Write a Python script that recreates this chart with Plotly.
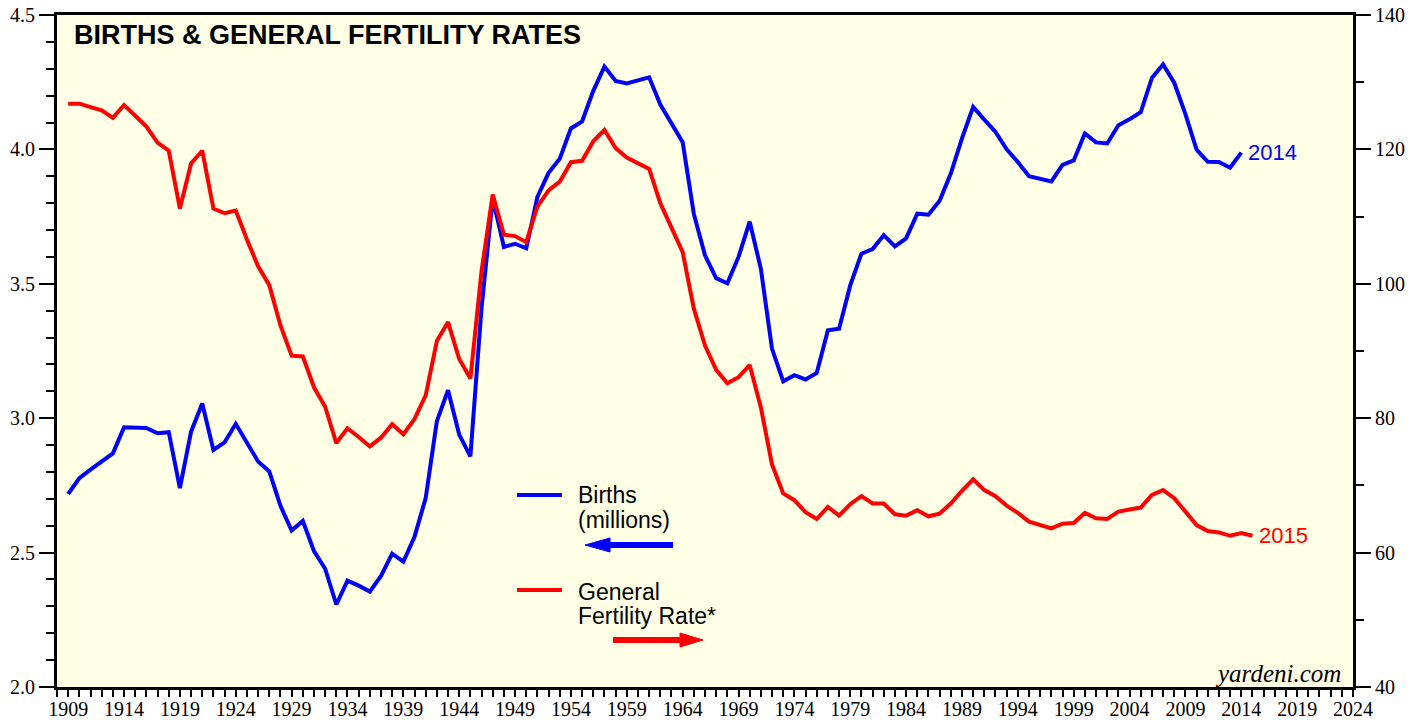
import plotly.graph_objects as go

# ---------------- data ----------------
births_years = list(range(1909, 2015))
births = [2.718, 2.777, 2.809, 2.840, 2.869, 2.966, 2.965, 2.964, 2.944, 2.948,
          2.740, 2.950, 3.055, 2.882, 2.910, 2.979, 2.909, 2.839, 2.802, 2.674,
          2.582, 2.618, 2.506, 2.440, 2.307, 2.396, 2.377, 2.355, 2.413, 2.496,
          2.466, 2.559, 2.703, 2.989, 3.104, 2.939, 2.858, 3.411, 3.817, 3.637,
          3.649, 3.632, 3.823, 3.913, 3.965, 4.078, 4.104, 4.218, 4.308, 4.255,
          4.245, 4.258, 4.268, 4.167, 4.098, 4.027, 3.760, 3.606, 3.521, 3.502,
          3.600, 3.731, 3.556, 3.258, 3.137, 3.160, 3.144, 3.168, 3.327, 3.333,
          3.494, 3.612, 3.629, 3.681, 3.639, 3.669, 3.761, 3.757, 3.809, 3.910,
          4.041, 4.158, 4.111, 4.065, 4.000, 3.953, 3.900, 3.891, 3.881, 3.942,
          3.959, 4.059, 4.026, 4.022, 4.090, 4.112, 4.138, 4.266, 4.316, 4.248,
          4.131, 3.999, 3.954, 3.953, 3.932, 3.988]

gfr_years = list(range(1909, 2016))
gfr = [126.8, 126.8, 126.3, 125.8, 124.7, 126.6, 125.0, 123.4, 121.0, 119.8,
       111.2, 117.9, 119.8, 111.2, 110.5, 110.9, 106.6, 102.6, 99.8, 93.8,
       89.3, 89.2, 84.6, 81.7, 76.3, 78.5, 77.2, 75.8, 77.1, 79.1,
       77.6, 79.9, 83.4, 91.5, 94.3, 88.8, 85.9, 101.9, 113.3, 107.3,
       107.1, 106.2, 111.5, 113.9, 115.2, 118.1, 118.3, 121.2, 122.9, 120.2,
       118.8, 118.0, 117.1, 112.0, 108.3, 104.7, 96.3, 90.8, 87.2, 85.2,
       86.1, 87.9, 81.6, 73.1, 68.8, 67.8, 66.0, 65.0, 66.8, 65.5,
       67.2, 68.4, 67.3, 67.3, 65.7, 65.5, 66.3, 65.4, 65.8, 67.3,
       69.2, 70.9, 69.3, 68.4, 67.0, 65.9, 64.6, 64.1, 63.6, 64.3,
       64.4, 65.9, 65.1, 65.0, 66.1, 66.4, 66.7, 68.6, 69.3, 68.1,
       66.2, 64.1, 63.2, 63.0, 62.5, 62.9, 62.5]

x_tick_years = list(range(1908, 2026))
x_label_years = list(range(1909, 2025, 5))
left_ticks = [2.0, 2.5, 3.0, 3.5, 4.0, 4.5]
left_tick_labels = ["2.0", "2.5", "3.0", "3.5", "4.0", "4.5"]
right_ticks = [40, 60, 80, 100, 120, 140]
right_tick_labels = ["40", "60", "80", "100", "120", "140"]

# ---------------- layout constants ----------------
W, H = 1426, 721
ML, MR, MT, MB = 57, 73, 15, 34
XR = [1908, 2024]
Y1R = [2.0, 4.5]
Y2R = [40, 140]
PW = W - ML - MR
PH = H - MT - MB

def px_to_x(px):
    return XR[0] + (px - ML) / PW * (XR[1] - XR[0])

def py_to_y1(py):
    return Y1R[0] + (MT + PH - py) / PH * (Y1R[1] - Y1R[0])

def dpy(p):
    return p / PH * (Y1R[1] - Y1R[0])

BLUE = "#0000FF"
RED = "#FF0000"
SANS = "Liberation Sans, Arial, Helvetica, sans-serif"
SERIF = "Liberation Serif, Times New Roman, serif"

fig = go.Figure()
fig.add_trace(go.Scatter(x=births_years, y=births, mode="lines",
                         line=dict(color=BLUE, width=4), yaxis="y",
                         showlegend=False, hoverinfo="x+y"))
fig.add_trace(go.Scatter(x=gfr_years, y=gfr, mode="lines",
                         line=dict(color=RED, width=4), yaxis="y2",
                         showlegend=False, hoverinfo="x+y"))

ticktext_x = [str(y) if y in x_label_years else "" for y in x_tick_years]

fig.update_layout(
    width=W, height=H,
    margin=dict(l=ML, r=MR, t=MT, b=MB, pad=0, autoexpand=False),
    paper_bgcolor="white",
    plot_bgcolor="#FFFFE6",
    showlegend=False,
    xaxis=dict(range=XR, tickmode="array", tickvals=x_tick_years, ticktext=ticktext_x,
               ticks="outside", ticklen=7, tickwidth=2, tickcolor="black",
               ticklabelstandoff=-5, automargin=False,
               showline=True, linecolor="black", linewidth=3, mirror=True,
               showgrid=False, zeroline=False,
               tickfont=dict(family=SERIF, size=20, color="black")),
    yaxis=dict(range=Y1R, tickmode="array", tickvals=left_ticks, ticktext=left_tick_labels,
               ticks="outside", ticklen=15, tickwidth=1.5, tickcolor="black",
               automargin=False,
               minor=dict(dtick=0.1, ticks="outside", ticklen=8, tickwidth=1.5, tickcolor="black",
                          showgrid=False),
               showline=True, linecolor="black", linewidth=3,
               showgrid=False, zeroline=False,
               tickfont=dict(family=SERIF, size=20, color="black")),
    yaxis2=dict(range=Y2R, overlaying="y", side="right", tickmode="array",
                tickvals=right_ticks, ticktext=right_tick_labels,
                ticks="outside", ticklen=15, tickwidth=1.5, tickcolor="black",
                automargin=False,
                minor=dict(dtick=10, ticks="outside", ticklen=8, tickwidth=1.5, tickcolor="black",
                           showgrid=False),
                showline=True, linecolor="black", linewidth=3,
                showgrid=False, zeroline=False,
                tickfont=dict(family=SERIF, size=20, color="black")),
)

ann = []
# Title
ann.append(dict(text="<b>BIRTHS &amp; GENERAL FERTILITY RATES</b>", xref="paper", yref="paper",
                x=(72 - ML) / PW, y=1 - (35 - MT) / PH, xanchor="left", yanchor="middle",
                showarrow=False, font=dict(family=SANS, size=27, color="black")))
# yardeni.com
ann.append(dict(text="<i>yardeni.com</i>", xref="paper", yref="paper",
                x=(1343 - ML) / PW, y=(MT + PH - 673) / PH, xanchor="right", yanchor="middle",
                showarrow=False, font=dict(family=SERIF, size=25, color="black")))
# End labels
ann.append(dict(text="2014", x=births_years[-1], y=births[-1], xref="x", yref="y",
                xanchor="left", yanchor="middle", xshift=5, showarrow=False,
                font=dict(family=SANS, size=22, color=BLUE)))
ann.append(dict(text="2015", x=gfr_years[-1], y=gfr[-1], xref="x", yref="y2",
                xanchor="left", yanchor="middle", xshift=5, showarrow=False,
                font=dict(family=SANS, size=22, color=RED)))
# Legend texts
for txt, py in [("Births", 495), ("(millions)", 520), ("General", 592), ("Fertility Rate*", 616)]:
    ann.append(dict(text=txt, x=px_to_x(576), y=py_to_y1(py), xref="x", yref="y",
                    xanchor="left", yanchor="middle", showarrow=False,
                    font=dict(family=SANS, size=23, color="black")))
fig.update_layout(annotations=ann)

shapes = []
# Legend line samples
for col, py in [(BLUE, 495), (RED, 590)]:
    shapes.append(dict(type="line", xref="x", yref="y",
                       x0=px_to_x(517), x1=px_to_x(562), y0=py_to_y1(py), y1=py_to_y1(py),
                       line=dict(color=col, width=4)))

def arrow(col, tail_px, base_px, tip_px, py):
    y = py_to_y1(py)
    shapes.append(dict(type="line", xref="x", yref="y",
                       x0=px_to_x(tail_px), x1=px_to_x(base_px), y0=y, y1=y,
                       line=dict(color=col, width=6)))
    hh = dpy(7)
    path = "M {bx},{y1} L {tx},{y} L {bx},{y2} Z".format(
        bx=px_to_x(base_px), tx=px_to_x(tip_px), y=y, y1=y + hh, y2=y - hh)
    shapes.append(dict(type="path", xref="x", yref="y", path=path,
                       fillcolor=col, line=dict(color=col, width=1)))

arrow(BLUE, 673, 610, 585, 545)
arrow(RED, 613, 680, 703, 640)
fig.update_layout(shapes=shapes)

fig.write_html("out.html", config={"displayModeBar": False},
               post_script="document.body.style.margin='0';document.body.style.overflow='hidden';")
